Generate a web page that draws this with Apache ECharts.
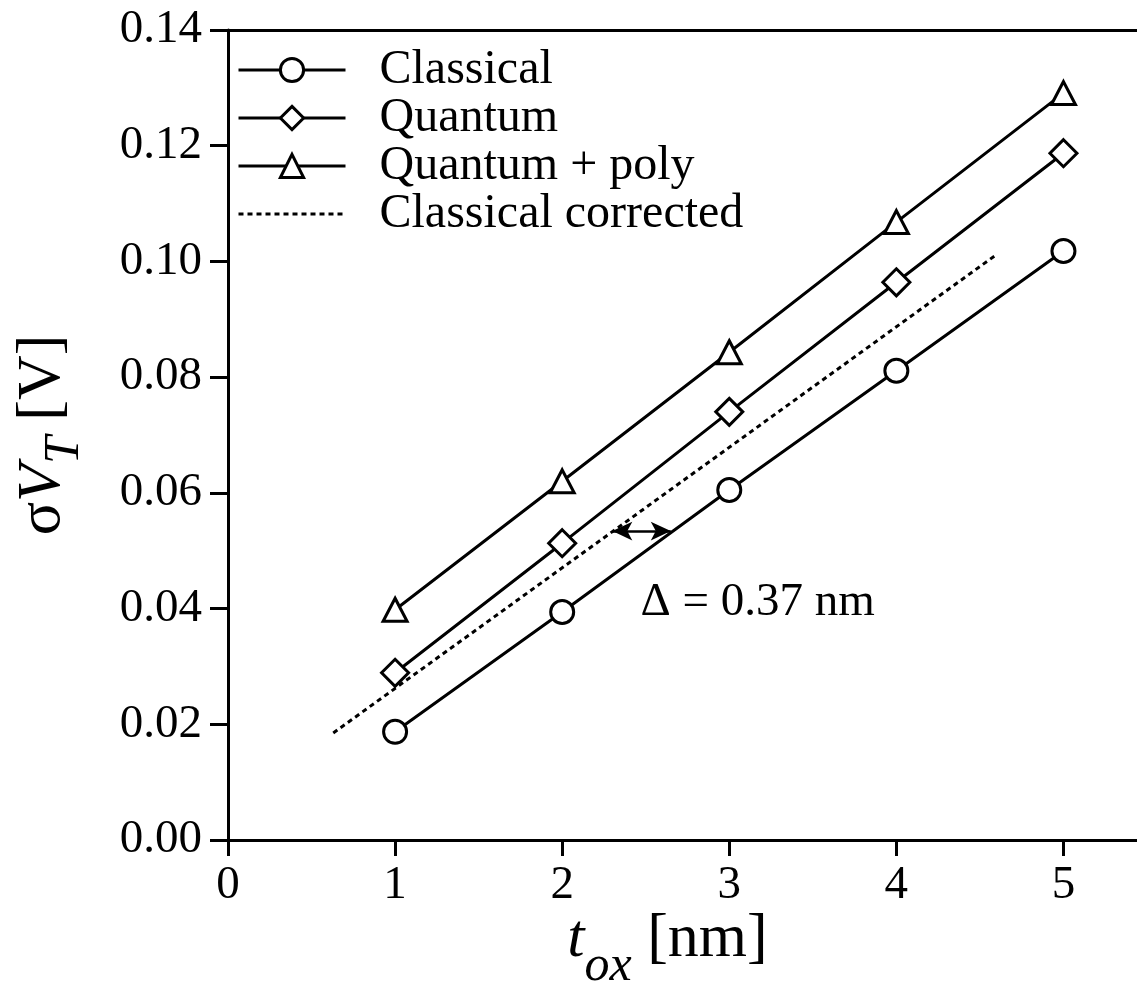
<!DOCTYPE html>
<html><head><meta charset="utf-8">
<script src="https://cdn.jsdelivr.net/npm/echarts@6/dist/echarts.min.js"></script>
<style>html,body{margin:0;padding:0;background:#fff}#c{width:1137px;height:981px}</style>
</head><body><div id="c"></div>
<script>
// ---- data ----
const tox = [1, 2, 3, 4, 5];
const classical = [0.0187, 0.0394, 0.0605, 0.0811, 0.1018];
const quantum = [0.0289, 0.0513, 0.0740, 0.0964, 0.1187];
const quantumPoly = [0.0398, 0.0620, 0.0843, 0.1068, 0.1291];
const correctedX = [0.63, 4.60];
const correctedY = [0.0185, 0.1012];
const deltaArrowX = [2.30, 2.65];
const deltaArrowY = [0.0534, 0.0534];
const deltaLabelPos = [3.17, 0.041];
const deltaLabel = 'Δ = 0.37 nm';
const seriesNames = ['Classical', 'Quantum', 'Quantum + poly', 'Classical corrected'];

const FF = 'Liberation Serif';
const pts = (xs, ys) => xs.map((x, i) => [x, ys[i]]);

const chart = echarts.init(document.getElementById('c'), null, {renderer: 'canvas'});
const solidSeries = (name, ys, symbol, size) => ({
  name, type: 'line', data: pts(tox, ys), symbol, symbolSize: size,
  lineStyle: {color: '#000', width: 3},
  itemStyle: {color: '#fff', borderColor: '#000', borderWidth: 3},
  z: 3, silent: true
});

chart.setOption({
  animation: false,
  backgroundColor: '#fff',
  grid: {left: 228, top: 30, bottom: 141, right: -10, containLabel: false, outerBoundsMode: 'none'},
  legend: {
    orient: 'vertical', left: 237, top: 46, padding: 0,
    itemWidth: 107, itemHeight: 29, itemGap: 0,
    textStyle: {fontFamily: FF, fontSize: 48, color: '#000', padding: [0, 0, 0, 29]},
    itemStyle: {borderWidth: 3},
    lineStyle: {width: 3},
    data: [seriesNames[0], seriesNames[1], seriesNames[2], {name: seriesNames[3], itemStyle: {opacity: 0}}]
  },
  xAxis: [{
    type: 'value', min: 0, max: 5.5, interval: 1, position: 'bottom',
    axisLine: {show: true, onZero: false, lineStyle: {color: '#000', width: 3}},
    axisTick: {show: true, length: 16, lineStyle: {color: '#000', width: 3}},
    axisLabel: {color: '#000', fontFamily: FF, fontSize: 47, margin: 22, showMaxLabel: false,
      formatter: v => Number.isInteger(v) ? String(v) : ''},
    splitLine: {show: false},
    name: '{it|t}{sub|ox}{rm| [nm]}', nameLocation: 'middle', nameGap: 65, nameMoveOverlap: false,
    nameTextStyle: {padding: [0, 40, 0, 0], rich: {
      it: {fontFamily: FF, fontStyle: 'italic', fontSize: 62, lineHeight: 70, color: '#000'},
      sub: {fontFamily: FF, fontStyle: 'italic', fontSize: 50, lineHeight: 50, padding: [54, 0, 0, 0], color: '#000'},
      rm: {fontFamily: FF, fontSize: 62, lineHeight: 70, color: '#000'}
    }}
  }, {
    type: 'value', min: 0, max: 5.5, position: 'top',
    axisLine: {show: true, onZero: false, lineStyle: {color: '#000', width: 3}},
    axisTick: {show: false}, axisLabel: {show: false}, splitLine: {show: false}
  }],
  yAxis: {
    type: 'value', min: 0, max: 0.14, interval: 0.02,
    axisLine: {show: true, onZero: false, lineStyle: {color: '#000', width: 3}},
    axisTick: {show: true, length: 18, lineStyle: {color: '#000', width: 3}},
    axisLabel: {color: '#000', fontFamily: FF, fontSize: 47, margin: 26, formatter: v => v.toFixed(2)},
    splitLine: {show: false},
    name: '{rm|σ}{it|V}{sub|T}{rm| [V]}', nameLocation: 'middle', nameGap: 150, nameRotate: 90, nameMoveOverlap: false,
    nameTextStyle: {rich: {
      it: {fontFamily: FF, fontStyle: 'italic', fontSize: 62, lineHeight: 70, color: '#000'},
      sub: {fontFamily: FF, fontStyle: 'italic', fontSize: 50, lineHeight: 50, padding: [44, 0, 0, 0], color: '#000'},
      rm: {fontFamily: FF, fontSize: 62, lineHeight: 70, color: '#000'}
    }}
  },
  series: [
    solidSeries(seriesNames[0], classical, 'circle', 23),
    solidSeries(seriesNames[1], quantum, 'diamond', 27),
    solidSeries(seriesNames[2], quantumPoly, 'triangle', [24, 23]),
    {
      name: seriesNames[3], type: 'line', data: pts(correctedX, correctedY), symbol: 'none',
      lineStyle: {color: '#000', width: 3, type: [5, 4]}, itemStyle: {color: '#000'}, z: 2, silent: true,
      markLine: {
        silent: true, symbol: ['arrow', 'arrow'], symbolSize: [14, 20], precision: 4,
        lineStyle: {type: 'solid', width: 2.5, color: '#000'}, label: {show: false},
        emphasis: {disabled: true},
        data: [[{coord: [deltaArrowX[0], deltaArrowY[0]]}, {coord: [deltaArrowX[1], deltaArrowY[1]]}]]
      },
      markPoint: {
        silent: true, symbol: 'circle', symbolSize: 1, itemStyle: {color: 'rgba(0,0,0,0)'},
        label: {show: true, position: 'inside', formatter: deltaLabel, color: '#000', fontFamily: FF, fontSize: 47},
        data: [{coord: deltaLabelPos}]
      }
    }
  ]
});
</script></body></html>
